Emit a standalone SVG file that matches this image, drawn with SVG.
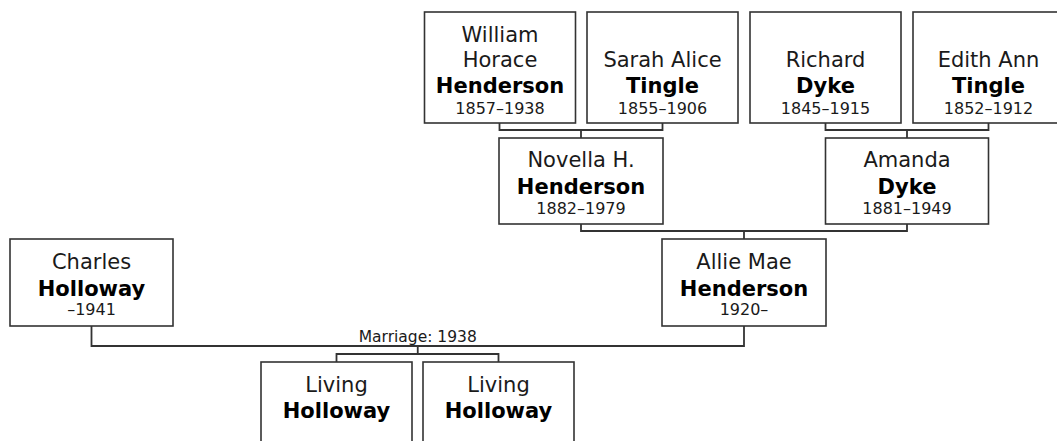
<svg xmlns="http://www.w3.org/2000/svg" width="1057" height="441" viewBox="0 0 1057 441">
<style>
  .box { fill: #ffffff; stroke: #333333; stroke-width: 1.6; }
  .conn { fill: none; stroke: #333333; stroke-width: 1.8; }
  text { font-family: "DejaVu Sans", Verdana, sans-serif; text-anchor: middle; fill: #1a1a1a; }
  .nm { font-size: 21px; }
  .sn { font-size: 21px; font-weight: bold; fill: #000; }
  .yr { font-size: 16px; }
  .lbl { font-size: 15.5px; }
</style>
<rect width="1057" height="441" fill="#ffffff"/>
<g id="connectors">
  <path class="conn" d="M499.5 123 V130 H662.5 V123 M581 130 V138"/>
  <path class="conn" d="M825.5 123 V130 H988.5 V123 M907 130 V138"/>
  <path class="conn" d="M581 224 V231 H907 V224 M744 231 V239"/>
  <path class="conn" d="M91.5 326 V346 H744 V326"/>
  <path class="conn" d="M417.75 346 V354 M336.5 362 V354 H498.5 V362"/>
  <text class="lbl" x="417.75" y="342">Marriage: 1938</text>
</g>
<g id="william">
  <rect class="box" x="424.5" y="12" width="151" height="111"/>
  <text class="nm" x="500" y="41.5">William</text>
  <text class="nm" x="500" y="67">Horace</text>
  <text class="sn" x="500" y="93">Henderson</text>
  <text class="yr" x="500" y="114">1857–1938</text>
</g>
<g id="sarah">
  <rect class="box" x="587" y="12" width="151" height="111"/>
  <text class="nm" x="662.5" y="67">Sarah Alice</text>
  <text class="sn" x="662.5" y="93">Tingle</text>
  <text class="yr" x="662.5" y="114">1855–1906</text>
</g>
<g id="richard">
  <rect class="box" x="750" y="12" width="151" height="111"/>
  <text class="nm" x="825.5" y="67">Richard</text>
  <text class="sn" x="825.5" y="93">Dyke</text>
  <text class="yr" x="825.5" y="114">1845–1915</text>
</g>
<g id="edith">
  <rect class="box" x="913" y="12" width="151" height="111"/>
  <text class="nm" x="988.5" y="67">Edith Ann</text>
  <text class="sn" x="988.5" y="93">Tingle</text>
  <text class="yr" x="988.5" y="114">1852–1912</text>
</g>
<g id="novella">
  <rect class="box" x="499" y="138" width="164" height="86"/>
  <text class="nm" x="581" y="167">Novella H.</text>
  <text class="sn" x="581" y="194">Henderson</text>
  <text class="yr" x="581" y="214">1882–1979</text>
</g>
<g id="amanda">
  <rect class="box" x="825.5" y="138" width="163" height="86"/>
  <text class="nm" x="907" y="167">Amanda</text>
  <text class="sn" x="907" y="194">Dyke</text>
  <text class="yr" x="907" y="214">1881–1949</text>
</g>
<g id="charles">
  <rect class="box" x="10" y="239" width="163" height="87"/>
  <text class="nm" x="91.5" y="268.5">Charles</text>
  <text class="sn" x="91.5" y="295.5">Holloway</text>
  <text class="yr" x="91.5" y="315">–1941</text>
</g>
<g id="allie">
  <rect class="box" x="662" y="239" width="164" height="87"/>
  <text class="nm" x="744" y="268.5">Allie Mae</text>
  <text class="sn" x="744" y="295.5">Henderson</text>
  <text class="yr" x="744" y="315">1920–</text>
</g>
<g id="living1">
  <rect class="box" x="261" y="362" width="151" height="100"/>
  <text class="nm" x="336.5" y="392">Living</text>
  <text class="sn" x="336.5" y="418">Holloway</text>
</g>
<g id="living2">
  <rect class="box" x="423" y="362" width="151" height="100"/>
  <text class="nm" x="498.5" y="392">Living</text>
  <text class="sn" x="498.5" y="418">Holloway</text>
</g>
</svg>
